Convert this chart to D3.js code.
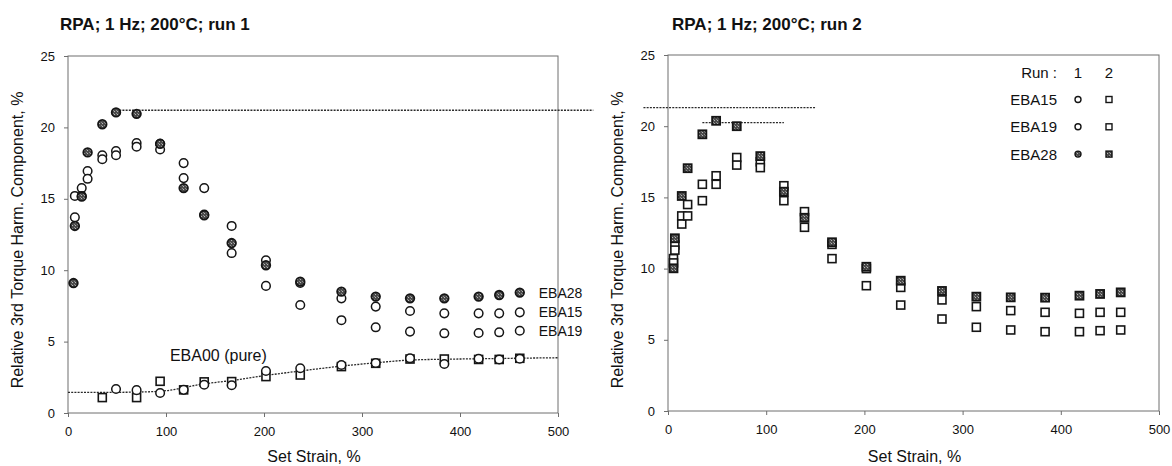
<!DOCTYPE html>
<html>
<head>
<meta charset="utf-8">
<script src="https://cdn.jsdelivr.net/npm/d3@7"></script>
<style>
  body { margin: 0; background: #fff; }
  svg { display: block; }
  text { font-family: "Liberation Sans", Arial, sans-serif; fill: #111; }
</style>
</head>
<body>
<svg id="chart" width="1172" height="466"></svg>
<script>
// Set strain steps of the RPA strain sweep, %
const strain = [5.6, 7, 14, 20, 35, 49, 70, 94, 118, 139, 167, 202, 237, 279, 314, 349, 384, 419, 440, 461];

// Run 1: relative 3rd torque harmonic, %
const run1EBA15 = [null, 15.2, 15.75, 16.95, 18.05, 18.35, 18.9, 18.85, 17.5, 15.75, 13.1, 10.7, 9.1, 8.03, 7.45, 7.14, 6.98, 6.98, 6.98, 7.05];
const run1EBA19 = [null, 13.7, 15.2, 16.4, 17.77, 18.05, 18.65, 18.45, 16.45, 13.9, 11.2, 8.9, 7.56, 6.5, 6.0, 5.7, 5.58, 5.6, 5.65, 5.76];
const run1EBA28 = [9.1, 13.1, 15.15, 18.25, 20.22, 21.05, 20.95, 18.85, 15.75, 13.85, 11.9, 10.35, 9.2, 8.5, 8.15, 8.03, 8.03, 8.15, 8.26, 8.43];

// Run 2
const run2EBA15 = [10.7, 11.66, 13.7, 14.5, 15.92, 16.52, 17.8, 17.5, 15.82, 14.0, 11.7, 10.0, 8.68, 7.8, 7.33, 7.05, 6.93, 6.86, 6.93, 6.93];
const run2EBA19 = [10.4, 11.3, 13.13, 13.7, 14.77, 15.92, 17.27, 17.09, 14.77, 12.9, 10.7, 8.8, 7.44, 6.46, 5.88, 5.69, 5.57, 5.57, 5.64, 5.69];
const run2EBA28 = [10.02, 12.13, 15.1, 17.05, 19.43, 20.38, 20.0, 17.9, 15.4, 13.57, 11.85, 10.13, 9.15, 8.43, 8.03, 7.98, 7.96, 8.1, 8.22, 8.33];

// Pure EBA00, both runs
const pureStrain = [35, 49, 70, 94, 118, 139, 167, 202, 237, 279, 314, 349, 384, 419, 440, 461];
const pureRun1 = [null, 1.68, 1.6, 1.4, 1.62, 1.98, 1.94, 2.94, 3.13, 3.36, 3.5, 3.83, 3.43, 3.8, 3.75, 3.8];
const pureRun2 = [1.08, null, 1.08, 2.22, 1.62, 2.18, 2.2, 2.55, 2.66, 3.25, 3.48, 3.78, 3.78, 3.75, 3.75, 3.83];

// Trend drawn through the pure EBA00 points
const pureTrendStrain = [0, 50, 80, 100, 135, 170, 203, 237, 280, 315, 350, 420, 500];
const pureTrend = [1.45, 1.45, 1.48, 1.56, 2.0, 2.3, 2.64, 2.94, 3.29, 3.52, 3.71, 3.8, 3.87];

// Plateau guide lines: [strain, level]
const run1Plateau = [[49, 21.2], [536, 21.2]];
const run2PlateauHigh = [[-25, 21.3], [151, 21.3]];
const run2PlateauLow = [[35, 20.25], [118, 20.25]];

// Axes
const xTicks = [0, 100, 200, 300, 400, 500];
const yTicks = [0, 5, 10, 15, 20, 25];

const svg = d3.select("#chart");

// Speckled fill for the EBA28 markers
const defs = svg.append("defs");
const pat = defs.append("pattern").attr("id", "speck")
  .attr("width", 3).attr("height", 3).attr("patternUnits", "userSpaceOnUse");
pat.append("rect").attr("width", 3).attr("height", 3).attr("fill", "#4a4a4a");
pat.append("rect").attr("width", 1).attr("height", 1).attr("fill", "#b8b8b8");
pat.append("rect").attr("x", 2).attr("y", 2).attr("width", 1).attr("height", 1).attr("fill", "#8a8a8a");

function panel(opts) {
  const x = d3.scaleLinear().domain([0, 500]).range(opts.xr);
  const y = d3.scaleLinear().domain([0, 25]).range(opts.yr);
  const g = svg.append("g");

  // frame
  g.append("rect")
    .attr("x", opts.xr[0]).attr("y", opts.yr[1])
    .attr("width", opts.xr[1] - opts.xr[0]).attr("height", opts.yr[0] - opts.yr[1])
    .attr("fill", "none").attr("stroke", "#6e6e6e").attr("stroke-width", 1);

  const ax = g.append("g").attr("transform", `translate(0,${opts.yr[0]})`)
    .call(d3.axisBottom(x).tickValues(xTicks).tickSize(4).tickPadding(10));
  const ay = g.append("g").attr("transform", `translate(${opts.xr[0]},0)`)
    .call(d3.axisLeft(y).tickValues(yTicks).tickSize(4).tickPadding(9));
  [ax, ay].forEach(a => {
    a.select(".domain").remove();
    a.selectAll(".tick line").attr("stroke", "#6e6e6e");
    a.selectAll(".tick text").style("font-size", "13px").attr("fill", "#111")
      .style("font-family", '"Liberation Sans", Arial, sans-serif');
  });

  // titles
  g.append("text").attr("x", opts.titleX).attr("y", 30)
    .style("font-size", "17px").style("font-weight", "bold").text(opts.title);
  g.append("text").attr("transform", `translate(${opts.xr[0] - 45},240) rotate(-90)`)
    .attr("text-anchor", "middle").style("font-size", "16px")
    .text("Relative 3rd Torque Harm. Component, %");
  g.append("text").attr("x", (opts.xr[0] + opts.xr[1]) / 2 + 1).attr("y", 462)
    .attr("text-anchor", "middle").style("font-size", "16px").text("Set Strain, %");

  return { g, x, y };
}

const dotted = (g, line, pts) => g.append("path")
  .attr("d", line(pts)).attr("fill", "none")
  .attr("stroke", "#2a2a2a").attr("stroke-width", 1.3).attr("stroke-dasharray", "2,1.2");

function circles(p, xs, vals, filled, r = 4.3) {
  const data = xs.map((s, i) => [s, vals[i]]).filter(d => d[1] != null);
  p.g.append("g").selectAll("circle").data(data).join("circle")
    .attr("cx", d => p.x(d[0])).attr("cy", d => p.y(d[1])).attr("r", r)
    .attr("fill", filled ? "url(#speck)" : "#fff")
    .attr("stroke", "#151515").attr("stroke-width", filled ? 1.8 : 1.5);
}
function squares(p, xs, vals, filled, s = 8) {
  const data = xs.map((v, i) => [v, vals[i]]).filter(d => d[1] != null);
  p.g.append("g").selectAll("rect").data(data).join("rect")
    .attr("x", d => p.x(d[0]) - s / 2).attr("y", d => p.y(d[1]) - s / 2)
    .attr("width", s).attr("height", s)
    .attr("fill", filled ? "url(#speck)" : "#fff")
    .attr("stroke", "#151515").attr("stroke-width", filled ? 1.8 : 1.6);
}

// ---- Run 1 ----
const p1 = panel({ xr: [68, 558], yr: [413, 56], title: "RPA; 1 Hz; 200°C; run 1", titleX: 60 });
const line1 = d3.line().x(d => p1.x(d[0])).y(d => p1.y(d[1]));
dotted(p1.g, line1, run1Plateau);
dotted(p1.g, line1.curve(d3.curveMonotoneX), pureTrendStrain.map((s, i) => [s, pureTrend[i]]));
squares(p1, pureStrain, pureRun2, false);
circles(p1, pureStrain, pureRun1, false);
circles(p1, strain, run1EBA15, false);
circles(p1, strain, run1EBA19, false);
circles(p1, strain, run1EBA28, true);

// end-of-series labels
const last = strain[strain.length - 1];
[["EBA28", run1EBA28], ["EBA15", run1EBA15], ["EBA19", run1EBA19]].forEach(([name, vals]) => {
  p1.g.append("text").attr("x", p1.x(last) + 19).attr("y", p1.y(vals[vals.length - 1]) + 5)
    .style("font-size", "14px").text(name);
});
p1.g.append("text").attr("x", p1.x(104)).attr("y", p1.y(3.63))
  .style("font-size", "16px").text("EBA00 (pure)");

// ---- Run 2 ----
const p2 = panel({ xr: [668, 1159], yr: [411, 55], title: "RPA; 1 Hz; 200°C; run 2", titleX: 672 });
const line2 = d3.line().x(d => p2.x(d[0])).y(d => p2.y(d[1]));
dotted(p2.g, line2, run2PlateauHigh);
dotted(p2.g, line2, run2PlateauLow);
squares(p2, strain, run2EBA15, false);
squares(p2, strain, run2EBA19, false);
squares(p2, strain, run2EBA28, true);

// legend
const legendNames = ["EBA15", "EBA19", "EBA28"];
const legendFilled = [false, false, true];
const lg = p2.g.append("g");
lg.append("text").attr("x", 1057).attr("y", 78).attr("text-anchor", "end")
  .style("font-size", "15px").text("Run :");
lg.append("text").attr("x", 1078).attr("y", 78).attr("text-anchor", "middle")
  .style("font-size", "15px").text("1");
lg.append("text").attr("x", 1109).attr("y", 78).attr("text-anchor", "middle")
  .style("font-size", "15px").text("2");
legendNames.forEach((name, i) => {
  const cy = 99.5 + i * 27.3;
  lg.append("text").attr("x", 1057).attr("y", cy + 5.5).attr("text-anchor", "end")
    .style("font-size", "15px").text(name);
  lg.append("circle").attr("cx", 1078).attr("cy", cy).attr("r", 3)
    .attr("fill", legendFilled[i] ? "url(#speck)" : "#fff")
    .attr("stroke", "#151515").attr("stroke-width", 1.4);
  lg.append("rect").attr("x", 1106).attr("y", cy - 3).attr("width", 6).attr("height", 6)
    .attr("fill", legendFilled[i] ? "url(#speck)" : "#fff")
    .attr("stroke", "#151515").attr("stroke-width", 1.4);
});
</script>
</body>
</html>
